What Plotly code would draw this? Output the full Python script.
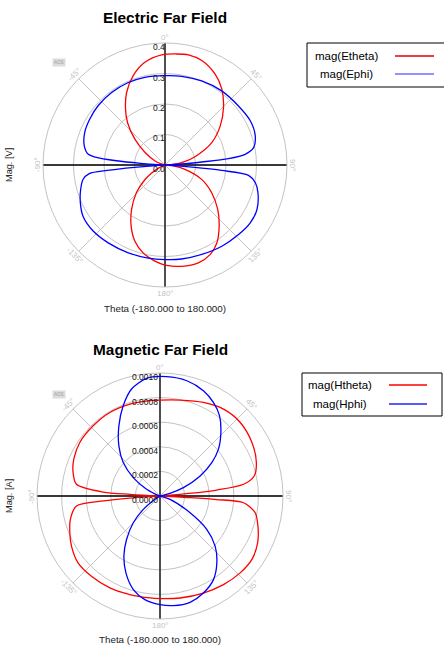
import math
import plotly.graph_objects as go

W, H = 444, 650

# ---------------- data ----------------
# Electric far field: mag(Etheta) [V] vs theta [deg]
etheta_deg = [-180, -174, -166, -158.5, -151, -143, -134, -126, -121, -115, -108, -95, -82, -75, -68,
              -58, -49.4, -41.4, -34.5, -27.9, -19.6, -11.1, -1.7, 6, 12, 19.4, 28.9, 36.8, 45.5,
              54.7, 64.4, 74.5, 80, 86, 90, 92, 96, 102.2, 111.4, 120.7, 130.1, 138.5, 146.4,
              153.3, 161.2, 170.6, 178.1, 180]
etheta_mag = [0.328, 0.317, 0.297, 0.269, 0.229, 0.182, 0.130, 0.081, 0.052, 0.022, 0.005, 0.001, 0.003, 0.013, 0.035,
              0.077, 0.130, 0.186, 0.229, 0.269, 0.311, 0.343, 0.361, 0.366, 0.369, 0.363, 0.340, 0.311, 0.269,
              0.222, 0.170, 0.102, 0.065, 0.025, 0.003, 0.003, 0.027, 0.067, 0.129, 0.178, 0.226, 0.268, 0.307,
              0.329, 0.339, 0.337, 0.330, 0.328]

# Electric far field: mag(Ephi) [V]
ephi_deg = [-180, -169.8, -157.3, -143.9, -132.6, -122, -114.1, -106.2, -100, -96.5, -95.3, -94.3, -93, -90,
            -87, -86, -85, -83.5, -82.1, -76.7, -68, -58.7, -48.5, -36.4, -24, -12.9, 0, 10.7, 23.6,
            37.4, 51.2, 62.6, 72.1, 78.9, 82.4, 84.3, 85.3, 86.6, 88, 90, 93, 94.5, 95.5, 97.1, 101.1,
            106.6, 115.8, 124.2, 133.4, 145, 157.7, 170, 180]
ephi_mag = [0.310, 0.310, 0.312, 0.316, 0.320, 0.317, 0.304, 0.288, 0.273, 0.250, 0.190, 0.100, 0.020, 0.0,
            0.020, 0.080, 0.160, 0.230, 0.254, 0.272, 0.284, 0.289, 0.293, 0.295, 0.296, 0.295, 0.293, 0.296, 0.301,
            0.306, 0.309, 0.315, 0.311, 0.296, 0.265, 0.209, 0.121, 0.055, 0.010, 0.0, 0.010, 0.090, 0.187, 0.276, 0.302,
            0.318, 0.335, 0.338, 0.332, 0.325, 0.317, 0.313, 0.310]

# Magnetic far field: mag(Htheta) [A]
htheta_deg = [-180, -174.4, -163, -151.4, -139.5, -129.2, -119.5, -112.2, -104.6, -96.8, -95, -94, -92.5, -90,
              -88, -86.8, -86, -82, -74.9, -66.9, -56.3, -43.6, -31, -18.1, -6, 0, 11.8, 24.9, 36.2, 47.5,
              59.8, 70.9, 78, 82, 84, 85, 87, 90, 92.5, 93.2, 93.6, 94.6, 100, 107.1, 115.6, 124.6, 133.8,
              144.4, 155.9, 168.9, 180]
htheta_mag = [0.000834, 0.000833, 0.000838, 0.000851, 0.000858, 0.000860, 0.000827, 0.000792, 0.000753, 0.000684,
              0.000460, 0.000245, 0.000020, 0.0,
              0.000020, 0.000245, 0.000463, 0.000686, 0.000732, 0.000762, 0.000784, 0.000788, 0.000792, 0.000786,
              0.000779, 0.000780, 0.000797, 0.000839, 0.000875, 0.000885,
              0.000865, 0.000829, 0.000783, 0.000686, 0.000465, 0.000218, 0.000020, 0.0, 0.000020, 0.000220,
              0.000460, 0.000682, 0.000786, 0.000833, 0.000880, 0.000908, 0.000903,
              0.000886, 0.000864, 0.000845, 0.000834]

# Magnetic far field: mag(Hphi) [A]
hphi_deg = [-180, -171.7, -164.1, -156.1, -149, -142.4, -135, -128.7, -124, -120, -90, -70, -67, -63.4,
            -55.5, -47.7, -39.4, -30.4, -22.2, -14.9, -6.5, 3.2, 13.1, 22.4, 29.7, 36.6, 43.8, 51.3, 57.2,
            63.4, 70.3, 75, 78.5, 90, 104, 108.4, 119.1, 125.5, 132.3, 139.6, 147.4, 155.9, 164.2, 173, 180]
hphi_mag = [0.000883, 0.000851, 0.000791, 0.000684, 0.000570, 0.000446, 0.000307, 0.000174, 0.000075, 0.000010,
            0.0, 0.000010, 0.000050, 0.000122,
            0.000264, 0.000404, 0.000527, 0.000661, 0.000792, 0.000900, 0.000963, 0.000972, 0.000962, 0.000926,
            0.000876, 0.000812, 0.000715, 0.000609, 0.000501,
            0.000365, 0.000202, 0.000084, 0.000015, 0.0, 0.000010, 0.000086, 0.000280, 0.000467, 0.000606,
            0.000713, 0.000807, 0.000864, 0.000898, 0.000898, 0.000883]

e_rticks = [0.0, 0.1, 0.2, 0.3, 0.4]
h_rticks = [0.0, 0.0002, 0.0004, 0.0006, 0.0008, 0.0010]
angle_ticks = [0, 45, 90, 135, 180, -135, -90, -45]
angle_labels = ["0°", "45°", "90°", "135°", "180°", "-135°", "-90°", "-45°"]

# ---------------- layout helpers ----------------
FONT = "Liberation Sans, Arial, sans-serif"
GRID = "#c3c3c3"

panels = [
    dict(cx=165, cy=165, R=122, rmax=0.4, ticks=e_rticks, fmt="{:.1f}", tx_off=2,
         title="Electric Far Field", ylab="Mag. [V]",
         series=[("mag(Etheta)", etheta_deg, etheta_mag, "#ff0000"),
                 ("mag(Ephi)", ephi_deg, ephi_mag, "#0000ff")],
         leg=dict(x0=307, y0=43, x1=452, y1=87, tx=346, ty=[56, 74], lx0=395, lx1=434),
         leg_colors=["#e00000", "#6f6fff"]),
    dict(cx=160, cy=496, R=123, rmax=0.001, ticks=h_rticks, fmt="{:.4f}", tx_off=0,
         title="Magnetic Far Field", ylab="Mag. [A]",
         series=[("mag(Htheta)", htheta_deg, htheta_mag, "#ff0000"),
                 ("mag(Hphi)", hphi_deg, hphi_mag, "#0000ff")],
         leg=dict(x0=302, y0=373, x1=442, y1=416, tx=340, ty=[385, 404], lx0=389, lx1=427),
         leg_colors=["#ff0000", "#2020ff"]),
]

def px(x):
    return x / W

def py(y):
    return 1 - y / H

fig = go.Figure()
annotations = []
shapes = []
layout_polars = {}

for i, p in enumerate(panels):
    pid = "polar" if i == 0 else "polar%d" % (i + 1)
    sub = pid
    cx, cy, R = p["cx"], p["cy"], p["R"]
    layout_polars[pid] = dict(
        domain=dict(x=[px(cx - R), px(cx + R)], y=[py(cy + R), py(cy - R)]),
        bgcolor="white",
        angularaxis=dict(rotation=90, direction="clockwise", tickmode="array",
                         tickvals=[0, 45, 90, 135, 180, 225, 270, 315],
                         showticklabels=False, ticks="", gridcolor=GRID, gridwidth=1,
                         showline=True, linecolor=GRID, linewidth=1),
        radialaxis=dict(range=[0, p["rmax"]], tickmode="array", tickvals=p["ticks"],
                        showticklabels=False, ticks="", showline=False,
                        gridcolor=GRID, gridwidth=1, angle=90),
    )
    rmax = p["rmax"]
    # black cross-hair axes
    fig.add_trace(go.Scatterpolar(r=[rmax, 0, rmax], theta=[0, 0, 180], mode="lines",
                                  line=dict(color="black", width=1.3), showlegend=False,
                                  hoverinfo="skip", subplot=sub))
    fig.add_trace(go.Scatterpolar(r=[rmax, 0, rmax], theta=[-90, -90, 90], mode="lines",
                                  line=dict(color="black", width=1.3), showlegend=False,
                                  hoverinfo="skip", subplot=sub))
    for name, th, rr, col in p["series"]:
        fig.add_trace(go.Scatterpolar(r=rr, theta=th, mode="lines", name=name,
                                      line=dict(color=col, width=1.3, shape="spline", smoothing=0.8),
                                      showlegend=False, subplot=sub))
    # radial tick labels
    for t in p["ticks"]:
        yy = cy - R * t / rmax
        annotations.append(dict(x=px(cx + p["tx_off"]), y=py(yy + 4), xref="paper", yref="paper",
                                text=p["fmt"].format(t), showarrow=False, xanchor="right",
                                yanchor="middle", font=dict(family=FONT, size=8.5, color="#111111")))
    # angular tick labels (tangential orientation)
    for a, lab in zip(angle_ticks, angle_labels):
        rr_ = R + 6
        x = cx + rr_ * math.sin(math.radians(a))
        y = cy - rr_ * math.cos(math.radians(a))
        ang = a
        if ang > 90:
            ang -= 180
        elif ang < -90:
            ang += 180
        annotations.append(dict(x=px(x), y=py(y), xref="paper", yref="paper", text=lab,
                                showarrow=False, xanchor="center", yanchor="middle",
                                textangle=ang, font=dict(family=FONT, size=8, color="#c4c4c4")))
    # title
    annotations.append(dict(x=px(cx), y=py(cy - 147), xref="paper", yref="paper",
                            text="<b>%s</b>" % p["title"], showarrow=False,
                            xanchor="center", yanchor="middle",
                            font=dict(family=FONT, size=15.4, color="black")))
    # axis titles
    annotations.append(dict(x=px(cx), y=py(cy + 143), xref="paper", yref="paper",
                            text="Theta (-180.000 to 180.000)", showarrow=False,
                            xanchor="center", yanchor="middle",
                            font=dict(family=FONT, size=9.8, color="#222222")))
    annotations.append(dict(x=px(9), y=py(cy), xref="paper", yref="paper",
                            text=p["ylab"], showarrow=False, textangle=-90,
                            xanchor="center", yanchor="middle",
                            font=dict(family=FONT, size=9.2, color="#222222")))
    # small "AOS" badge
    annotations.append(dict(x=px(59), y=py(cy - 102), xref="paper", yref="paper",
                            text="AOS", showarrow=False, xanchor="center", yanchor="middle",
                            bgcolor="#dcdcdc", borderpad=1,
                            font=dict(family=FONT, size=4.5, color="#a0a0a0")))
    # legend box
    lg = p["leg"]
    shapes.append(dict(type="rect", xref="paper", yref="paper",
                       x0=px(lg["x0"]), x1=px(lg["x1"]), y0=py(lg["y1"]), y1=py(lg["y0"]),
                       line=dict(color="black", width=1), fillcolor="white"))
    for (name, _, _, _), ty, lc in zip(p["series"], lg["ty"], p["leg_colors"]):
        annotations.append(dict(x=px(lg["tx"]), y=py(ty), xref="paper", yref="paper",
                                text=name, showarrow=False, xanchor="center", yanchor="middle",
                                font=dict(family=FONT, size=11.5, color="black")))
        shapes.append(dict(type="line", xref="paper", yref="paper",
                           x0=px(lg["lx0"]), x1=px(lg["lx1"]), y0=py(ty), y1=py(ty),
                           line=dict(color=lc, width=1.4)))

fig.update_layout(
    width=W, height=H,
    margin=dict(l=0, r=0, t=0, b=0),
    paper_bgcolor="white",
    plot_bgcolor="white",
    showlegend=False,
    annotations=annotations,
    shapes=shapes,
    **layout_polars,
)

fig.write_html("out.html", config={"displayModeBar": False},
               post_script="document.body.style.margin='0';document.body.style.padding='0';")
